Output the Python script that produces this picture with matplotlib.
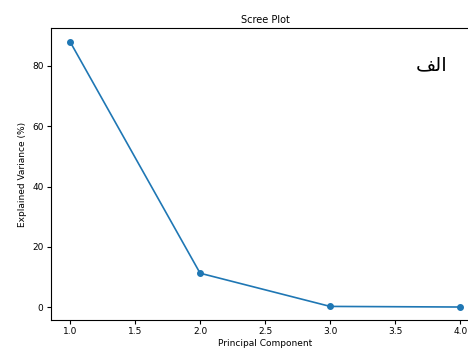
import matplotlib.pyplot as plt

components = [1, 2, 3, 4]
explained = [88.0, 11.3, 0.3, 0.1]
title = 'Scree Plot'
note = '\ufed2\ufedf\ufe8d'  # الف, shaped by hand (no bidi in matplotlib)

fig = plt.figure(figsize=(4.68, 3.51), dpi=100)
ax = fig.add_axes([0.108, 0.0875, 0.917, 0.8315])
ax.plot(components, explained, marker='o', markersize=4, linewidth=1.2, color='tab:blue')
ax.set_title(title, fontsize=7, pad=4)
ax.set_xlabel('Principal Component', fontsize=6.5, labelpad=2)
ax.set_ylabel('Explained Variance (%)', fontsize=6.5, labelpad=4)
ax.tick_params(labelsize=6.5, length=3, pad=2)
ax.set_yticks([0, 20, 40, 60, 80])

fig.text(0.922, 0.815, note, fontsize=14, ha='center', va='center',
         family=['DejaVu Sans'])
fig.savefig('out.png', dpi=100)
